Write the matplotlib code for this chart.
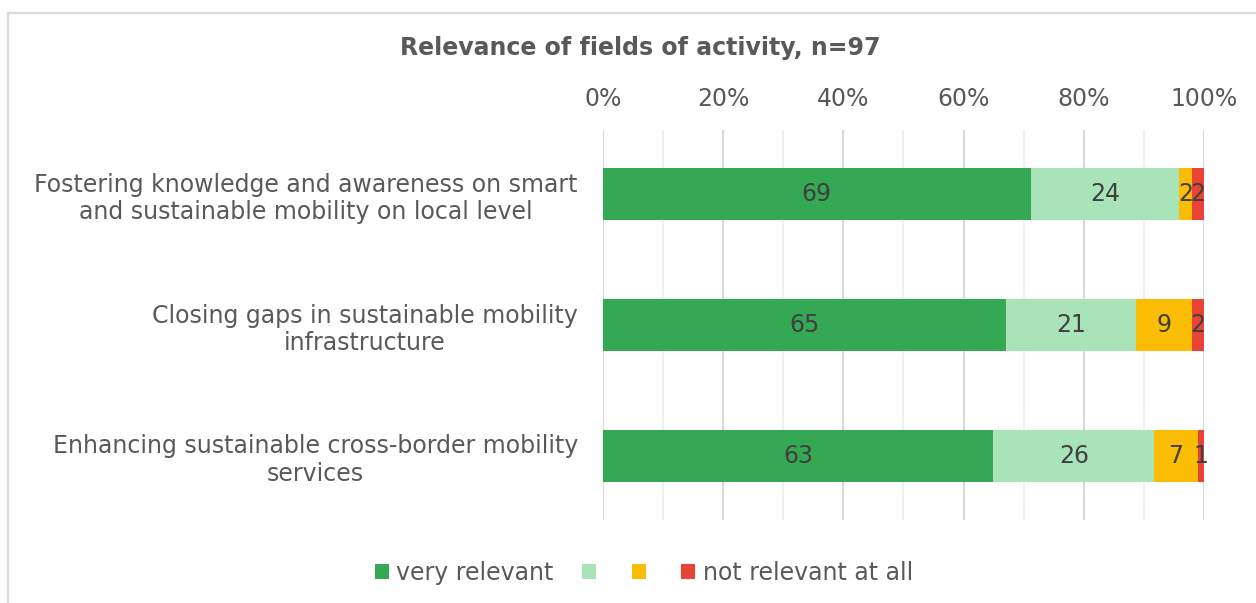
import matplotlib
matplotlib.use("Agg")
import matplotlib.pyplot as plt
from matplotlib.lines import Line2D
from matplotlib.patches import Patch
import numpy as np

categories = [
    "Fostering knowledge and awareness on smart\nand sustainable mobility on local level",
    "Closing gaps in sustainable mobility\ninfrastructure",
    "Enhancing sustainable cross-border mobility\nservices",
]
series_names = ["very relevant", "", "", "not relevant at all"]
very_relevant = [69, 65, 63]
relevant = [24, 21, 26]
less_relevant = [2, 9, 7]
not_relevant = [2, 2, 1]
tick_labels = ["0%", "20%", "40%", "60%", "80%", "100%"]
colors = ["#34A853", "#A8E4B8", "#FBBC04", "#EA4335"]
n_total = 97

plt.rcParams['font.family'] = ['DejaVu Sans']
FS = 17

fig = plt.figure(figsize=(12.56, 6.03), dpi=100)
ax = fig.add_axes([603/1256, 1-520/603, (1204-603)/1256, (520-130)/603])

series = [very_relevant, relevant, less_relevant, not_relevant]
y = np.arange(len(categories))
totals = np.sum(np.array(series), axis=0)
left = np.zeros(len(categories))
for vals, col in zip(series, colors):
    vals = np.array(vals, dtype=float)
    frac = vals / totals
    ax.barh(y, frac, left=left, height=0.4, color=col, edgecolor='none', zorder=3)
    for yi, (l, f, v) in enumerate(zip(left, frac, vals)):
        ax.text(l + f/2, yi, f"{int(v)}", ha='center', va='center',
                fontsize=FS, color='#404040', zorder=4)
    left += frac

ax.set_xlim(0, 1)
ax.set_ylim(2.49, -0.49)
ax.set_xticks(np.linspace(0, 1, 6))
ax.set_xticklabels(tick_labels, fontsize=FS, color='#595959')
ax.set_xticks(np.linspace(0.1, 0.9, 5), minor=True)
ax.xaxis.tick_top()
ax.tick_params(axis='x', which='both', length=0, pad=14)
ax.grid(axis='x', which='major', color='#D9D9D9', linewidth=1.5, zorder=0)
ax.grid(axis='x', which='minor', color='#F0F0F0', linewidth=1.5, zorder=0)
ax.set_yticks(y)
ax.set_yticklabels(categories, fontsize=FS, color='#595959', ha='right', multialignment='center')
ax.tick_params(axis='y', length=0, pad=18)
for s in ax.spines.values():
    s.set_visible(False)

fig.text(640/1256, 1-48/603, f"Relevance of fields of activity, n={n_total}",
         ha='center', va='center', fontsize=FS, fontweight='bold', color='#595959')

handles = [Patch(facecolor=c, edgecolor='none') for c in colors]
leg = fig.legend(handles, series_names, loc='center', bbox_to_anchor=(644/1256, 1-573/603),
                 ncol=4, frameon=False, fontsize=FS, handlelength=0.6, handleheight=0.6,
                 handletextpad=0.3, columnspacing=1.2, labelcolor='#595959')

# frame border (top and left visible)
fig.add_artist(Line2D([8/1256, 8/1256], [0, 1-13/603], transform=fig.transFigure,
                      color='#D9D9D9', linewidth=1.6))
fig.add_artist(Line2D([8/1256, 1], [1-13/603, 1-13/603], transform=fig.transFigure,
                      color='#D9D9D9', linewidth=1.6))

fig.savefig("out.png", dpi=100)
